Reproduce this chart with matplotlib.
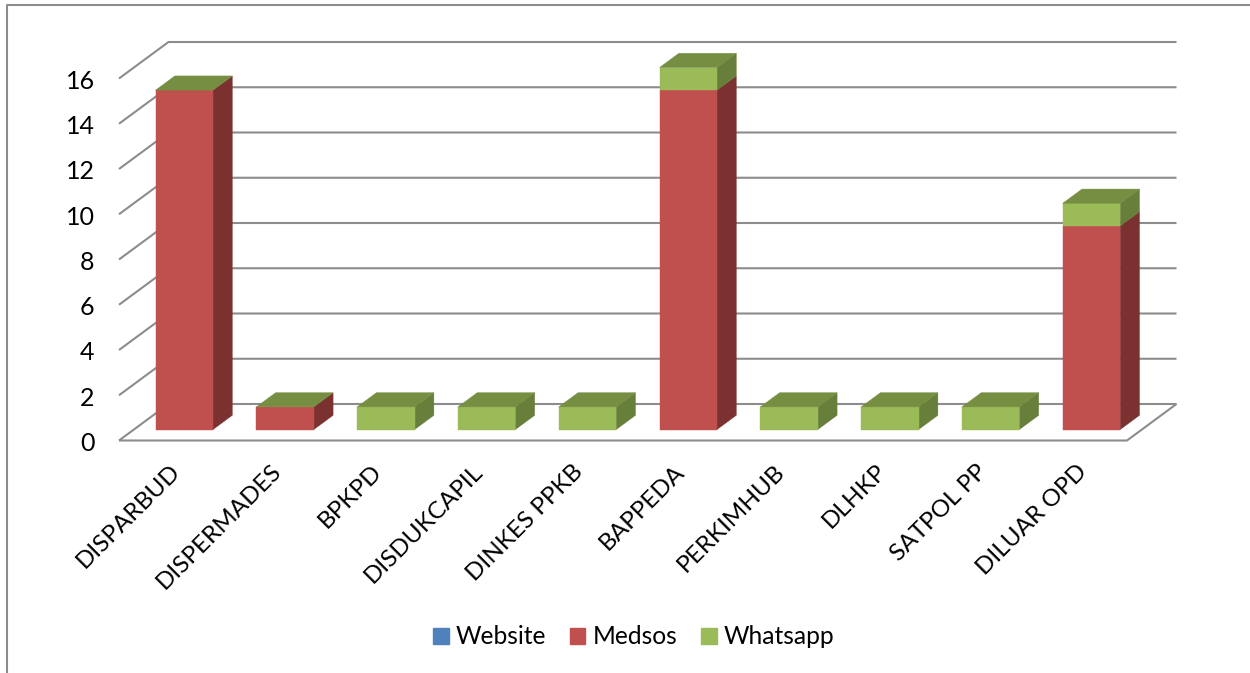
#!/usr/bin/env python3
"""Stacked bars with an Excel style 3D look, drawn on plain 2D axes."""

import matplotlib
matplotlib.use('Agg')
import matplotlib.pyplot as plt
from matplotlib.lines import Line2D
from matplotlib.patches import Patch, Polygon
from matplotlib.transforms import ScaledTranslation

CATEGORIES = [
    'DISPARBUD', 'DISPERMADES', 'BPKPD', 'DISDUKCAPIL', 'DINKES PPKB',
    'BAPPEDA', 'PERKIMHUB', 'DLHKP', 'SATPOL PP', 'DILUAR OPD',
]
WEBSITE = [0, 0, 0, 0, 0, 0, 0, 0, 0, 0]
MEDSOS = [15, 1, 0, 0, 0, 15, 0, 0, 0, 9]
WHATSAPP = [0, 0, 1, 1, 1, 1, 1, 1, 1, 1]
Y_TICKS = [0, 2, 4, 6, 8, 10, 12, 14, 16]

# front, side
BLUE = ('#4F81BD', '#2F4D71')
RED = ('#C0504D', '#7B3130')
GREEN = ('#9BBB59', '#677F3A')
TOP_COLOR = '#768E42'
GRID = '#8C8C8C'

W, H = 1250, 673
LEFT, RIGHT, BOTTOM, TOP = 119, 1127, 440.5, 78.5
# depth of the floor, in category and value units
DX = 49.5 / ((RIGHT - LEFT) / 10)
DY = 36.5 / ((BOTTOM - TOP) / 16)
BAR_W = 0.57
D0, D1 = 0.30, 0.69


def proj(x, v, d):
    return x + d * DX, v + d * DY


def draw_walls(ax):
    kw = dict(color=GRID, lw=1.5, clip_on=False, zorder=1,
              solid_capstyle='butt')
    for v in Y_TICKS:
        xs, ys = zip(proj(0, v, 0), proj(0, v, 1), proj(10, v, 1))
        ax.add_line(Line2D(xs, ys, **kw))
    xs, ys = zip(proj(0, 0, 0), proj(10, 0, 0), proj(10, 0, 1))
    ax.add_line(Line2D(xs, ys, **kw))


def poly(ax, pts, color):
    ax.add_patch(Polygon(pts, closed=True, facecolor=color, edgecolor=color,
                         lw=0.3, clip_on=False, zorder=3))


def draw_bar(ax, i, segments):
    x0 = i + 0.5 - BAR_W / 2
    x1 = x0 + BAR_W
    base = 0
    for val, (front, side) in segments:
        if val == 0:
            continue
        top = base + val
        poly(ax, [proj(x1, base, D0), proj(x1, base, D1),
                  proj(x1, top, D1), proj(x1, top, D0)], side)
        poly(ax, [proj(x0, base, D0), proj(x1, base, D0),
                  proj(x1, top, D0), proj(x0, top, D0)], front)
        base = top
    poly(ax, [proj(x0, base, D0), proj(x1, base, D0),
              proj(x1, base, D1), proj(x0, base, D1)], TOP_COLOR)


def main():
    plt.rcParams['font.family'] = ['Lato', 'DejaVu Sans']
    fig = plt.figure(figsize=(W / 100, H / 100), dpi=100)
    ax = fig.add_axes([LEFT / W, 1 - BOTTOM / H,
                       (RIGHT - LEFT) / W, (BOTTOM - TOP) / H])
    ax.set_xlim(0, 10)
    ax.set_ylim(0, 16)
    ax.patch.set_alpha(0)
    for s in ax.spines.values():
        s.set_visible(False)

    draw_walls(ax)
    for i in range(len(CATEGORIES)):
        draw_bar(ax, i, [(WEBSITE[i], BLUE), (MEDSOS[i], RED),
                         (WHATSAPP[i], GREEN)])

    ax.set_yticks(Y_TICKS)
    ax.tick_params(axis='y', length=0, pad=17.5, labelsize=18)
    # labels sit a little under the tick position
    nudge = ScaledTranslation(0, -0.7 / 72, fig.dpi_scale_trans)
    for lab in ax.get_yticklabels():
        lab.set_transform(lab.get_transform() + nudge)

    ax.set_xticks([i + 0.5 for i in range(len(CATEGORIES))])
    ax.set_xticklabels(CATEGORIES, rotation=45, ha='right',
                       rotation_mode='anchor', fontsize=17.5)
    ax.tick_params(axis='x', length=0, pad=14.5)

    handles = [
        Patch(color=BLUE[0], label='Website'),
        Patch(color=RED[0], label='Medsos'),
        Patch(color=GREEN[0], label='Whatsapp'),
    ]
    fig.legend(handles=handles, ncol=3, frameon=False, fontsize=17.7,
               loc='center', bbox_to_anchor=(634 / W, 1 - 637 / H),
               handlelength=0.62, handleheight=0.62, handletextpad=0.3,
               columnspacing=0.97)

    # chart area border, runs off the top right of the crop
    fig.add_artist(Line2D([6.5 / W, 6.5 / W, 1], [0, 1 - 5 / H, 1 - 5 / H],
                          color=GRID, lw=1.5))

    fig.savefig('out.png', dpi=100)


if __name__ == '__main__':
    main()
